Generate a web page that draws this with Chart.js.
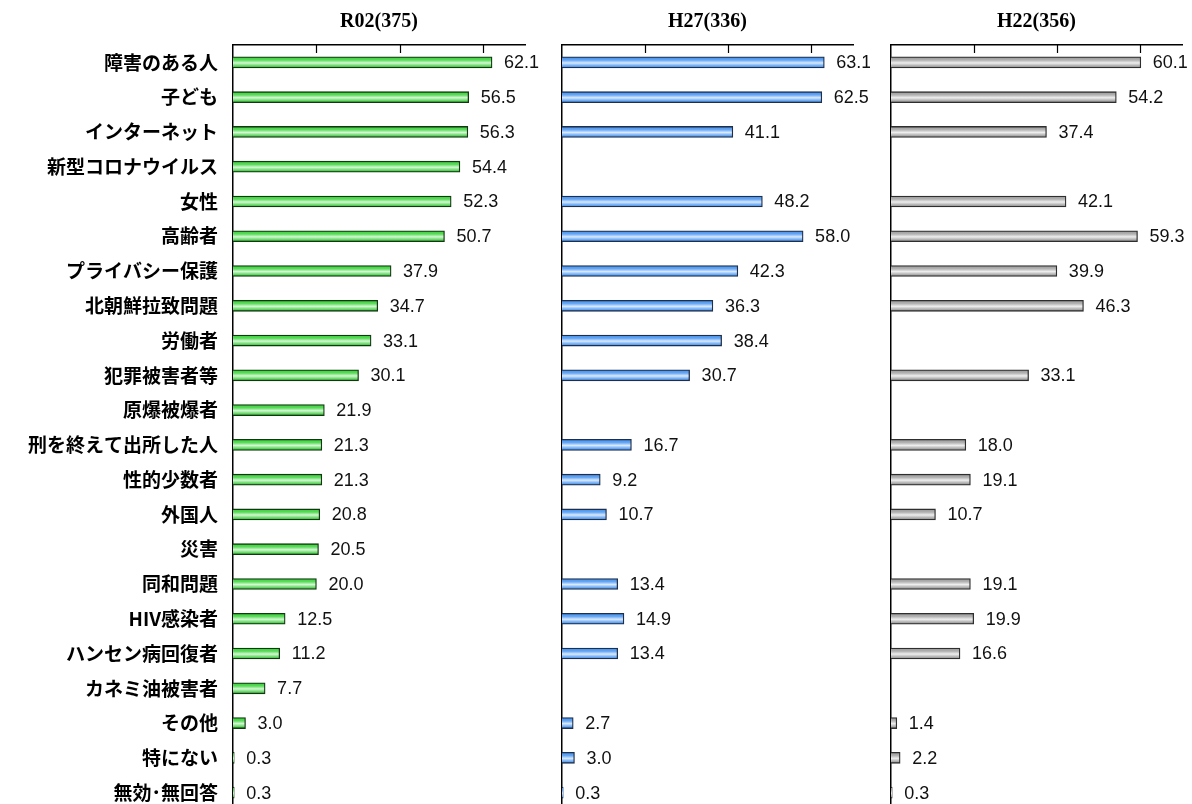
<!DOCTYPE html>
<html>
<head>
<meta charset="utf-8">
<script src="https://cdn.jsdelivr.net/npm/chart.js@4"></script>
<style>
  html, body { margin: 0; padding: 0; background: #fff; overflow: hidden; }
  canvas { position: absolute; top: 0; }
</style>
</head>
<body>
<canvas id="grafico_1" width="545" height="812" style="left:0px"></canvas>
<canvas id="grafico_2" width="325" height="812" style="left:545px"></canvas>
<canvas id="grafico_3" width="322" height="812" style="left:870px"></canvas>
<script>
const categories = ['障害のある人', '子ども', 'インターネット', '新型コロナウイルス', '女性', '高齢者',
  'プライバシー保護', '北朝鮮拉致問題', '労働者', '犯罪被害者等', '原爆被爆者', '刑を終えて出所した人',
  '性的少数者', '外国人', '災害', '同和問題', 'HIV感染者', 'ハンセン病回復者', 'カネミ油被害者',
  'その他', '特にない', '無効･無回答'];

const r02 = [62.1, 56.5, 56.3, 54.4, 52.3, 50.7, 37.9, 34.7, 33.1, 30.1, 21.9, 21.3, 21.3, 20.8, 20.5, 20.0, 12.5, 11.2, 7.7, 3.0, 0.3, 0.3];
const h27 = [63.1, 62.5, 41.1, null, 48.2, 58.0, 42.3, 36.3, 38.4, 30.7, null, 16.7, 9.2, 10.7, null, 13.4, 14.9, 13.4, null, 2.7, 3.0, 0.3];
const h22 = [60.1, 54.2, 37.4, null, 42.1, 59.3, 39.9, 46.3, null, 33.1, null, 18.0, 19.1, 10.7, null, 19.1, 19.9, 16.6, null, 1.4, 2.2, 0.3];

const titles = ['R02(375)', 'H27(336)', 'H22(356)'];

// gradient stops for the tube-looking bars
const greenStops = ['#2fd02f', '#5edc5e', '#d4f7d4', '#72dc72', '#22b022'];
const blueStops = ['#3d8cee', '#68a8f4', '#dae9fd', '#78b2f5', '#3883e6'];
const grayStops = ['#969696', '#b3b3b3', '#eeeeee', '#b6b6b6', '#868686'];

const BAR_H = 11;

function barFill(stops) {
  return function (c) {
    const chart = c.chart;
    if (!chart.chartArea || c.type !== 'data') return stops[0];
    const y = chart.scales.y.getPixelForValue(c.dataIndex);
    const g = chart.ctx.createLinearGradient(0, y - BAR_H / 2, 0, y + BAR_H / 2);
    g.addColorStop(0, stops[0]);
    g.addColorStop(0.3, stops[1]);
    g.addColorStop(0.55, stops[2]);
    g.addColorStop(0.78, stops[3]);
    g.addColorStop(1, stops[4]);
    return g;
  };
}

// small tick marks hanging down from the top axis
const tickMarks = {
  id: 'tickMarks',
  afterDraw(chart) {
    const x = chart.scales.x;
    const ctx = chart.ctx;
    ctx.save();
    ctx.strokeStyle = '#000';
    ctx.lineWidth = 1.2;
    x.ticks.forEach(t => {
      if (t.value > 0 && t.value % 20 === 0) {
        const px = Math.round(x.getPixelForValue(t.value)) + 0.5;
        ctx.beginPath();
        ctx.moveTo(px, chart.chartArea.top);
        ctx.lineTo(px, chart.chartArea.top + 8);
        ctx.stroke();
      }
    });
    ctx.restore();
  }
};

// value labels to the right of each bar
const valueLabels = {
  id: 'valueLabels',
  afterDatasetsDraw(chart) {
    const ctx = chart.ctx;
    const meta = chart.getDatasetMeta(0);
    const data = chart.data.datasets[0].data;
    ctx.save();
    ctx.font = '18px "Liberation Sans", Arial, sans-serif';
    ctx.fillStyle = '#111';
    ctx.textBaseline = 'middle';
    ctx.textAlign = 'left';
    meta.data.forEach((el, i) => {
      if (data[i] == null) return;
      ctx.fillText(data[i].toFixed(1), el.x + 12, el.y + 1);
    });
    ctx.restore();
  }
};

function makePanel(id, title, values, stops, border, yWidth, showLabels, rightPad) {
  new Chart(document.getElementById(id), {
    type: 'bar',
    data: {
      labels: categories,
      datasets: [{
        data: values,
        backgroundColor: barFill(stops),
        borderColor: border,
        borderWidth: 1.3,
        barThickness: BAR_H
      }]
    },
    options: {
      indexAxis: 'y',
      responsive: false,
      animation: false,
      layout: { padding: { top: 0, right: rightPad, bottom: 2, left: 0 } },
      plugins: {
        legend: { display: false },
        tooltip: { enabled: false },
        title: {
          display: true,
          text: title,
          fullSize: false,
          color: '#000',
          font: { family: '"Liberation Serif", "DejaVu Serif", serif', size: 20, weight: 'bold', lineHeight: 1.2 },
          padding: { top: 10, bottom: 11 }
        }
      },
      scales: {
        x: {
          position: 'top',
          min: 0,
          max: 70,
          ticks: { display: false, stepSize: 20 },
          grid: { display: false },
          border: { display: true, color: '#000', width: 1.5 },
          afterFit(scale) { scale.height = 0; }
        },
        y: {
          ticks: {
            display: showLabels,
            color: '#000',
            padding: 15,
            font: { family: '"Noto Sans CJK JP", sans-serif', size: 19, weight: 'bold' }
          },
          grid: { display: false, drawTicks: false },
          border: { display: true, color: '#000', width: 1.5 },
          afterFit(scale) {
            scale.width = yWidth;
            scale.paddingTop = 0;
            scale.paddingBottom = 0;
          }
        }
      }
    },
    plugins: [tickMarks, valueLabels]
  });
}

makePanel('grafico_1', titles[0], r02, greenStops, '#123812', 233, true, 20);
makePanel('grafico_2', titles[1], h27, blueStops, '#1f2f4a', 17, false, 17);
makePanel('grafico_3', titles[2], h22, grayStops, '#2e2e2e', 21, false, 10);
</script>
</body>
</html>
